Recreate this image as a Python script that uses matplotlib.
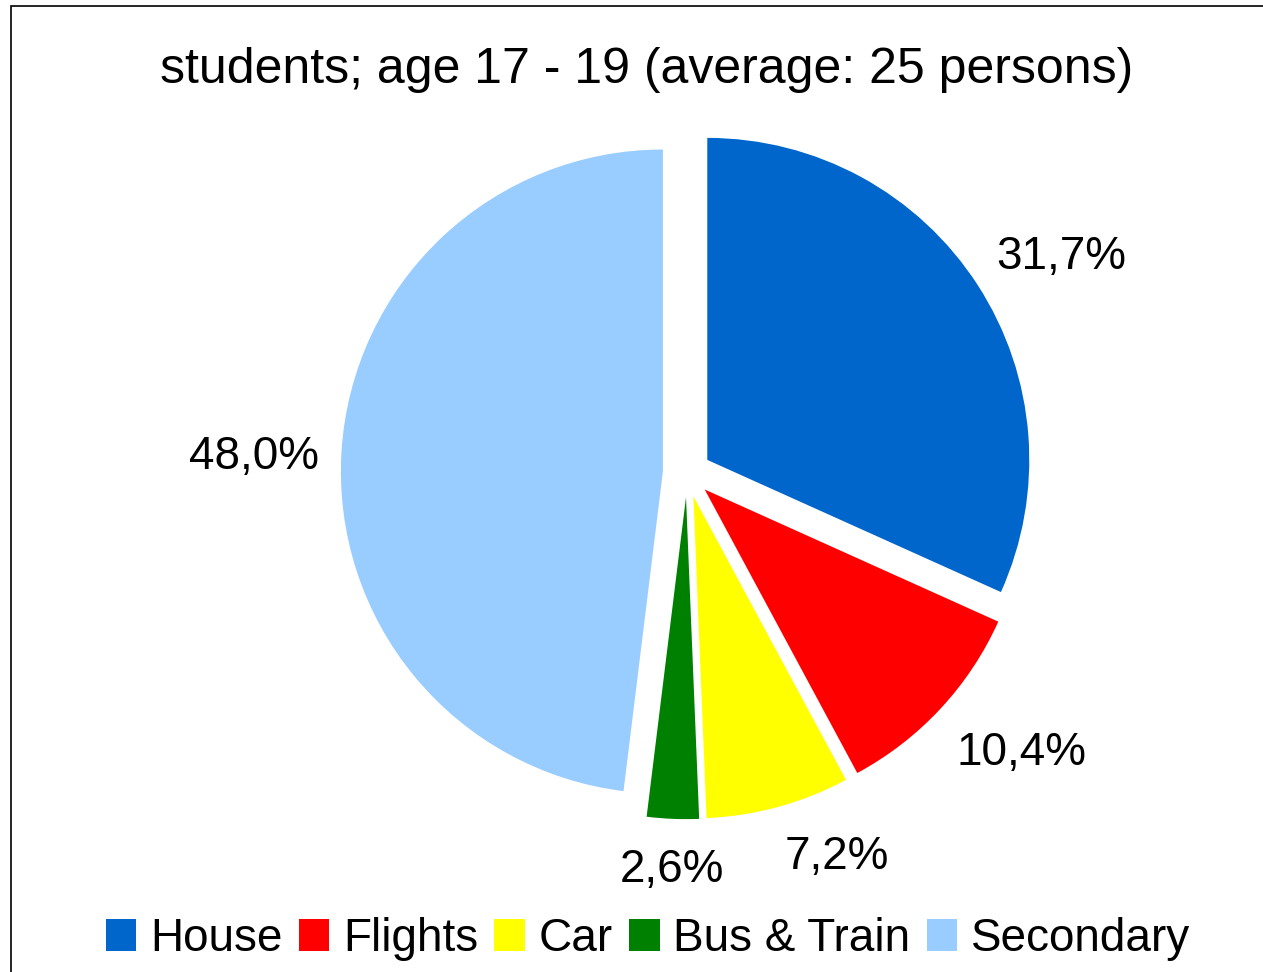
import matplotlib
matplotlib.use("Agg")
import numpy as np
import matplotlib.pyplot as plt
from matplotlib.patches import Rectangle

# data
categories = ["House", "Flights", "Car", "Bus & Train", "Secondary"]
shares = [31.7, 10.4, 7.2, 2.6, 48.0]
colors = ["#0066CC", "#FF0000", "#FFFF00", "#008000", "#99CCFF"]
title = "students; age 17 - 19 (average: 25 persons)"

plt.rcParams["font.family"] = ["Liberation Sans", "DejaVu Sans"]

W, H = 1263, 972
fig = plt.figure(figsize=(W / 100, H / 100), dpi=100)

# axes over the whole figure, 1 data unit = pie radius (322 px)
cx, cy, r = 687, 473, 322
ax = fig.add_axes([0, 0, 1, 1])

wedges, texts, autotexts = ax.pie(
    shares,
    colors=colors,
    startangle=90,
    counterclock=False,
    explode=[0.075] * len(shares),
    autopct="%1.1f%%",
    pctdistance=1.07,
    radius=1.0,
    wedgeprops=dict(linewidth=0),
    textprops=dict(fontsize=33),
)
ax.set_xlim(-cx / r, (W - cx) / r)
ax.set_ylim((cy - H) / r, cy / r)
ax.set_aspect("auto")
ax.axis("off")

# labels sit just outside each wedge, aligned away from it
for w, t, v in zip(wedges, autotexts, shares):
    t.set_text(f"{v:.1f}%".replace(".", ","))
    ang = np.deg2rad((w.theta1 + w.theta2) / 2)
    dx, dy = np.cos(ang), np.sin(ang)
    x0, y0 = w.center
    t.set_position((x0 + 1.07 * dx, y0 + 1.07 * dy - 0.02))
    t.set_ha("left" if dx > 0.2 else "right" if dx < -0.2 else "center")
    t.set_va("bottom" if dy > 0.2 else "top" if dy < -0.2 else "center")

fig.text(647 / W, 1 - 70 / H, title, ha="center", va="center", fontsize=36)

leg = fig.legend(
    wedges, categories,
    loc="center", bbox_to_anchor=(648 / W, 1 - 939 / H),
    ncol=5, frameon=False, fontsize=33,
    handlelength=0.67, handleheight=0.67,
    handletextpad=0.3, columnspacing=0.35,
)

# outer frame (right and bottom edges fall outside the picture)
fig.patches.append(Rectangle((11 / W, -0.02), 1.1, 1.02 - 6 / H,
                             transform=fig.transFigure, fill=False,
                             edgecolor="black", linewidth=1.2))

fig.savefig("out.png", dpi=100)
